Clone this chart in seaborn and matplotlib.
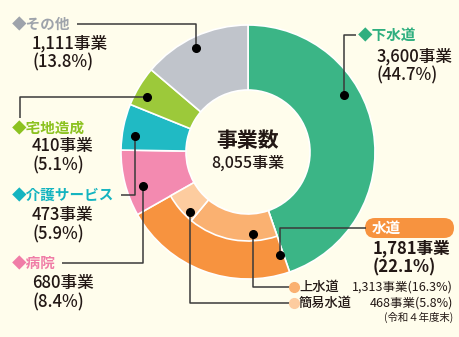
import matplotlib
matplotlib.use("Agg")
import matplotlib.pyplot as plt
import seaborn as sns
from matplotlib.patches import FancyBboxPatch

# ---------------- data ----------------
categories = ["下水道", "水道", "病院", "介護サービス", "宅地造成", "その他"]
counts = [3600, 1781, 680, 473, 410, 1111]
pcts = [44.7, 22.1, 8.4, 5.9, 5.1, 13.8]
water_sub = ["上水道", "簡易水道"]
water_counts = [1313, 468]
water_pcts = [16.3, 5.8]
total_label = "事業数"
total_count = 8055
note = "(令和４年度末)"

# ---------------- style ----------------
sns.set_theme(style="white")
plt.rcParams['font.family'] = ['Noto Sans CJK JP', 'DejaVu Sans']

BG = "#FFFDEC"
ring_colors = ["#3BB586", "#F7933F", "#F38AB0", "#20BAC4", "#9CC93A", "#C0C4CB"]
sub_colors = ["#FAB171", "#FDCC9F"]
label_colors = ["#2FAF7F", "#F7933F", "#F07DA7", "#14B4C0", "#8CC220", "#9EA3AB"]
LINE = "#3A3A3A"
TXT = "#231815"

W, H = 460, 337
fig = plt.figure(figsize=(W / 100, H / 100), dpi=100, facecolor=BG)
ax = fig.add_axes([0, 0, 1, 1])
ax.set_facecolor(BG)


def P(x, y):
    return (x, H - y)


cx, cy = P(248, 152)
R_out, R_mid, R_in = 127, 89, 62

# outer ring (full thickness)
ax.pie(counts, radius=R_out, center=(cx, cy), startangle=90, counterclock=False,
       colors=ring_colors, wedgeprops=dict(width=R_out - R_in, edgecolor="white", linewidth=1.2),
       frame=True)

# inner ring for 水道 breakdown
inner_vals = [counts[0]] + water_counts + [sum(counts[2:])]
inner_cols = ["none"] + sub_colors + ["none"]
wedges, _ = ax.pie(inner_vals, radius=R_mid, center=(cx, cy), startangle=90, counterclock=False,
                   colors=inner_cols, wedgeprops=dict(width=R_mid - R_in, edgecolor="white", linewidth=1.2),
                   frame=True)
for i in (0, 3):
    wedges[i].set_visible(False)

ax.set_xlim(0, W)
ax.set_ylim(0, H)
ax.set_aspect("equal")
ax.axis("off")

# center
ax.text(cx, H - 141, total_label, ha="center", va="center", fontsize=15, fontweight="bold", color=TXT)
ax.text(cx, H - 163, f"{total_count:,}事業", ha="center", va="center", fontsize=11.5,
        fontweight="medium", color=TXT)


def leader(points):
    xs = [P(*p)[0] for p in points]
    ys = [P(*p)[1] for p in points]
    ax.plot(xs, ys, color=LINE, lw=1.1, solid_capstyle="butt", zorder=5)
    ax.plot(xs[0], ys[0], "o", color="black", ms=5.5, zorder=6)


NUM_FS = 12
CAT_FS = 10.5

# layout: (dot + path), label anchor
layout = {
    0: dict(path=[(344, 95), (344, 35), (356, 35)], lab=(358, 35), num=(377, 56), pct=(377, 75)),
    2: dict(path=[(143, 186), (143, 263), (62, 263)], lab=(12, 263), num=(32, 283), pct=(32, 302)),
    3: dict(path=[(135, 136), (135, 195), (121, 195)], lab=(12, 195), num=(32, 215), pct=(32, 234)),
    4: dict(path=[(147, 97), (20, 97), (20, 118)], lab=(12, 128), num=(32, 146), pct=(32, 165)),
    5: dict(path=[(196, 48), (196, 24), (77, 24)], lab=(12, 24), num=(32, 43), pct=(32, 62)),
}

for i, L in layout.items():
    leader(L["path"])
    ax.text(*P(*L["lab"]), "◆" + categories[i], ha="left", va="center", fontsize=CAT_FS,
            fontweight="bold", color=label_colors[i])
    ax.text(*P(*L["num"]), f"{counts[i]:,}事業", ha="left", va="center", fontsize=NUM_FS,
            fontweight="medium", color=TXT)
    ax.text(*P(*L["pct"]), f"({pcts[i]}%)", ha="left", va="center", fontsize=NUM_FS,
            fontweight="medium", color=TXT)

# 水道 label box
leader([(280, 255), (280, 228), (366, 228)])
bx0, by0 = P(365, 238)
box = FancyBboxPatch((bx0, by0), 89, 20, boxstyle="round,pad=0,rounding_size=10",
                     mutation_aspect=1, facecolor=ring_colors[1], edgecolor="none", zorder=4)
ax.add_patch(box)
ax.text(*P(372, 227.5), categories[1], ha="left", va="center", fontsize=CAT_FS, fontweight="bold",
        color="white", zorder=7)
ax.text(*P(373, 248), f"{counts[1]:,}事業", ha="left", va="center", fontsize=NUM_FS,
        fontweight="bold", color=TXT)
ax.text(*P(373, 267), f"({pcts[1]}%)", ha="left", va="center", fontsize=NUM_FS,
        fontweight="bold", color=TXT)

# sub water labels
sub_paths = [[(253, 234), (253, 287), (291, 287)], [(190, 212), (190, 303), (291, 303)]]
sub_y = [287, 303]
for j in range(2):
    leader(sub_paths[j])
    ax.plot(*P(294, sub_y[j]), "o", color=sub_colors[j], ms=7, zorder=7)
    ax.text(*P(299, sub_y[j]), water_sub[j], ha="left", va="center", fontsize=9.5,
            fontweight="medium", color=TXT)
    ax.text(*P(453, sub_y[j]), f"{water_counts[j]:,}事業({water_pcts[j]}%)", ha="right",
            va="center", fontsize=9, color=TXT)
ax.text(*P(453, 317), note, ha="right", va="center", fontsize=7.5, color=TXT)

fig.savefig("out.png", dpi=100, facecolor=BG)
